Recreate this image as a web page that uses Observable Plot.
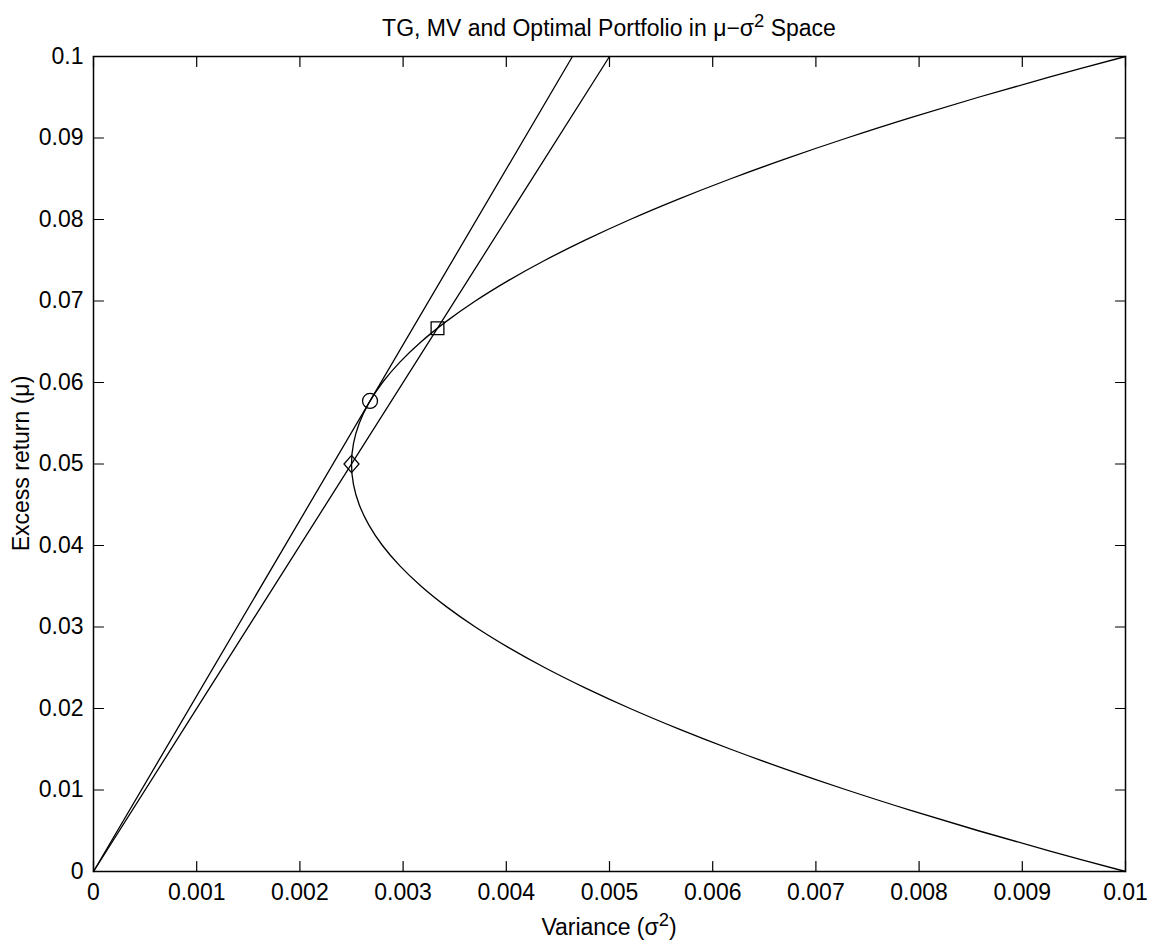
<!DOCTYPE html>
<html>
<head>
<meta charset="utf-8">
<script src="https://cdn.jsdelivr.net/npm/d3@7"></script>
<script src="https://cdn.jsdelivr.net/npm/@observablehq/plot@0.6"></script>
<style>
  html, body { margin: 0; padding: 0; background: #fff; }
</style>
</head>
<body>
<div id="chart"></div>
<script>
// Mean-variance frontier (excess return vs variance)
const frontierReturn = [
  0, 0.0025, 0.005, 0.0075, 0.01, 0.0125, 0.015, 0.0175, 0.02, 0.0225,
  0.025, 0.0275, 0.03, 0.0325, 0.035, 0.0375, 0.04, 0.0425, 0.045, 0.0475,
  0.05, 0.0525, 0.055, 0.0575, 0.06, 0.0625, 0.065, 0.0675, 0.07, 0.0725,
  0.075, 0.0775, 0.08, 0.0825, 0.085, 0.0875, 0.09, 0.0925, 0.095, 0.0975, 0.1
];
const frontierVariance = [
  0.01, 0.009269, 0.008575, 0.007919, 0.0073, 0.006719, 0.006175, 0.005669, 0.0052, 0.004769,
  0.004375, 0.004019, 0.0037, 0.003419, 0.003175, 0.002969, 0.0028, 0.002669, 0.002575, 0.002519,
  0.0025, 0.002519, 0.002575, 0.002669, 0.0028, 0.002969, 0.003175, 0.003419, 0.0037, 0.004019,
  0.004375, 0.004769, 0.0052, 0.005669, 0.006175, 0.006719, 0.0073, 0.007919, 0.008575, 0.009269, 0.01
];

// Lines from the origin (tangent line and line through MV / optimal)
const tangentLineVariance = [0, 0.004641];
const tangentLineReturn = [0, 0.1];
const mvLineVariance = [0, 0.005];
const mvLineReturn = [0, 0.1];

// Marked portfolios
const portfolioNames = ["TG", "Optimal", "MV"];
const portfolioVariance = [0.0026795, 0.0033333, 0.0025];
const portfolioReturn = [0.057735, 0.066667, 0.05];
const portfolioSymbols = ["circle", "square", "diamond"];

// Axis ticks
const xTicks = [0, 0.001, 0.002, 0.003, 0.004, 0.005, 0.006, 0.007, 0.008, 0.009, 0.01];
const xTickLabels = ["0", "0.001", "0.002", "0.003", "0.004", "0.005", "0.006", "0.007", "0.008", "0.009", "0.01"];
const yTicks = [0, 0.01, 0.02, 0.03, 0.04, 0.05, 0.06, 0.07, 0.08, 0.09, 0.1];
const yTickLabels = ["0", "0.01", "0.02", "0.03", "0.04", "0.05", "0.06", "0.07", "0.08", "0.09", "0.1"];

const frontier = frontierReturn.map((r, i) => ({variance: frontierVariance[i], ret: r}));
const tangentLine = tangentLineReturn.map((r, i) => ({variance: tangentLineVariance[i], ret: r}));
const mvLine = mvLineReturn.map((r, i) => ({variance: mvLineVariance[i], ret: r}));
const portfolios = portfolioNames.map((n, i) => ({
  name: n, variance: portfolioVariance[i], ret: portfolioReturn[i], symbol: portfolioSymbols[i]
}));

const tickShape = {draw(context, l) { context.moveTo(0, 0); context.lineTo(0, -l); }};
const diamondSymbol = {draw(context, size) {
  const r = Math.sqrt(size / Math.PI);
  context.moveTo(0, -r * 1.15);
  context.lineTo(r, 0);
  context.lineTo(0, r * 1.15);
  context.lineTo(-r, 0);
  context.closePath();
}};
const symbolOf = s => s === "circle" ? d3.symbolCircle : s === "square" ? d3.symbolSquare : diamondSymbol;

const W = 1149, H = 941;
const ML = 93, MR = 24, MT = 56, MB = 70;
const FONT = "'Liberation Sans', Arial, Helvetica, sans-serif";
const FS = 23;

const lineStyle = {stroke: "black", strokeWidth: 1.3};

const svg = Plot.plot({
  width: W,
  height: H,
  marginLeft: ML,
  marginRight: MR,
  marginTop: MT,
  marginBottom: MB,
  style: {fontFamily: FONT, fontSize: FS + "px", background: "white", color: "black", overflow: "visible"},
  x: {domain: [0, 0.01]},
  y: {domain: [0, 0.1]},
  marks: [
    Plot.line(frontier, {x: "variance", y: "ret", curve: "catmull-rom", ...lineStyle}),
    Plot.line(tangentLine, {x: "variance", y: "ret", ...lineStyle}),
    Plot.line(mvLine, {x: "variance", y: "ret", ...lineStyle}),
    ...portfolios.map(p => Plot.dot([p], {
      x: "variance", y: "ret", symbol: () => symbolOf(p.symbol),
      r: p.symbol === "circle" ? 7.5 : p.symbol === "square" ? 7.2 : 7.5,
      stroke: "black", strokeWidth: 1.3, fill: "none"
    })),
    // inward ticks on all four sides
    Plot.vector(xTicks, {x: d => d, frameAnchor: "bottom", length: 10, rotate: 0, anchor: "start", shape: tickShape, stroke: "black", strokeWidth: 1.2, fill: "none"}),
    Plot.vector(xTicks, {x: d => d, frameAnchor: "top", length: 10, rotate: 180, anchor: "start", shape: tickShape, stroke: "black", strokeWidth: 1.2, fill: "none"}),
    Plot.vector(yTicks, {y: d => d, frameAnchor: "left", length: 10, rotate: 90, anchor: "start", shape: tickShape, stroke: "black", strokeWidth: 1.2, fill: "none"}),
    Plot.vector(yTicks, {y: d => d, frameAnchor: "right", length: 10, rotate: -90, anchor: "start", shape: tickShape, stroke: "black", strokeWidth: 1.2, fill: "none"}),
    Plot.axisX({anchor: "bottom", ticks: xTicks, tickSize: 0, tickPadding: 12, fontSize: FS, label: null,
      tickFormat: d => xTickLabels[xTicks.indexOf(d)]}),
    Plot.axisY({anchor: "left", ticks: yTicks, tickSize: 0, tickPadding: 10, fontSize: FS, label: null,
      tickFormat: d => yTickLabels[yTicks.indexOf(d)]}),
    Plot.frame({stroke: "black", strokeWidth: 1.5})
  ]
});

// Title and axis labels with superscripts
const s = d3.select(svg);
const cx = ML + (W - ML - MR) / 2;
const cy = MT + (H - MT - MB) / 2;

function addSup(sel, parts) {
  let shift = 0;
  parts.forEach(([txt, sup]) => {
    const t = sel.append("tspan").text(txt);
    if (sup) {
      t.attr("font-size", "0.8em").attr("dy", -9);
      shift = 9;
    } else if (shift) {
      t.attr("dy", shift);
      shift = 0;
    }
  });
}

const title = s.append("text")
  .attr("x", cx).attr("y", 36)
  .attr("text-anchor", "middle")
  .attr("font-family", FONT).attr("font-size", FS).attr("fill", "black");
addSup(title, [["TG, MV and Optimal Portfolio in \u03BC\u2212\u03C3"], ["2", true], [" Space"]]);

const xl = s.append("text")
  .attr("x", cx).attr("y", 935)
  .attr("text-anchor", "middle")
  .attr("font-family", FONT).attr("font-size", FS).attr("fill", "black");
addSup(xl, [["Variance (\u03C3"], ["2", true], [")"]]);

s.append("text")
  .attr("transform", `translate(29,${cy}) rotate(-90)`)
  .attr("text-anchor", "middle")
  .attr("font-family", FONT).attr("font-size", FS).attr("fill", "black")
  .text("Excess return (\u03BC)");

document.getElementById("chart").appendChild(svg);
</script>
</body>
</html>
